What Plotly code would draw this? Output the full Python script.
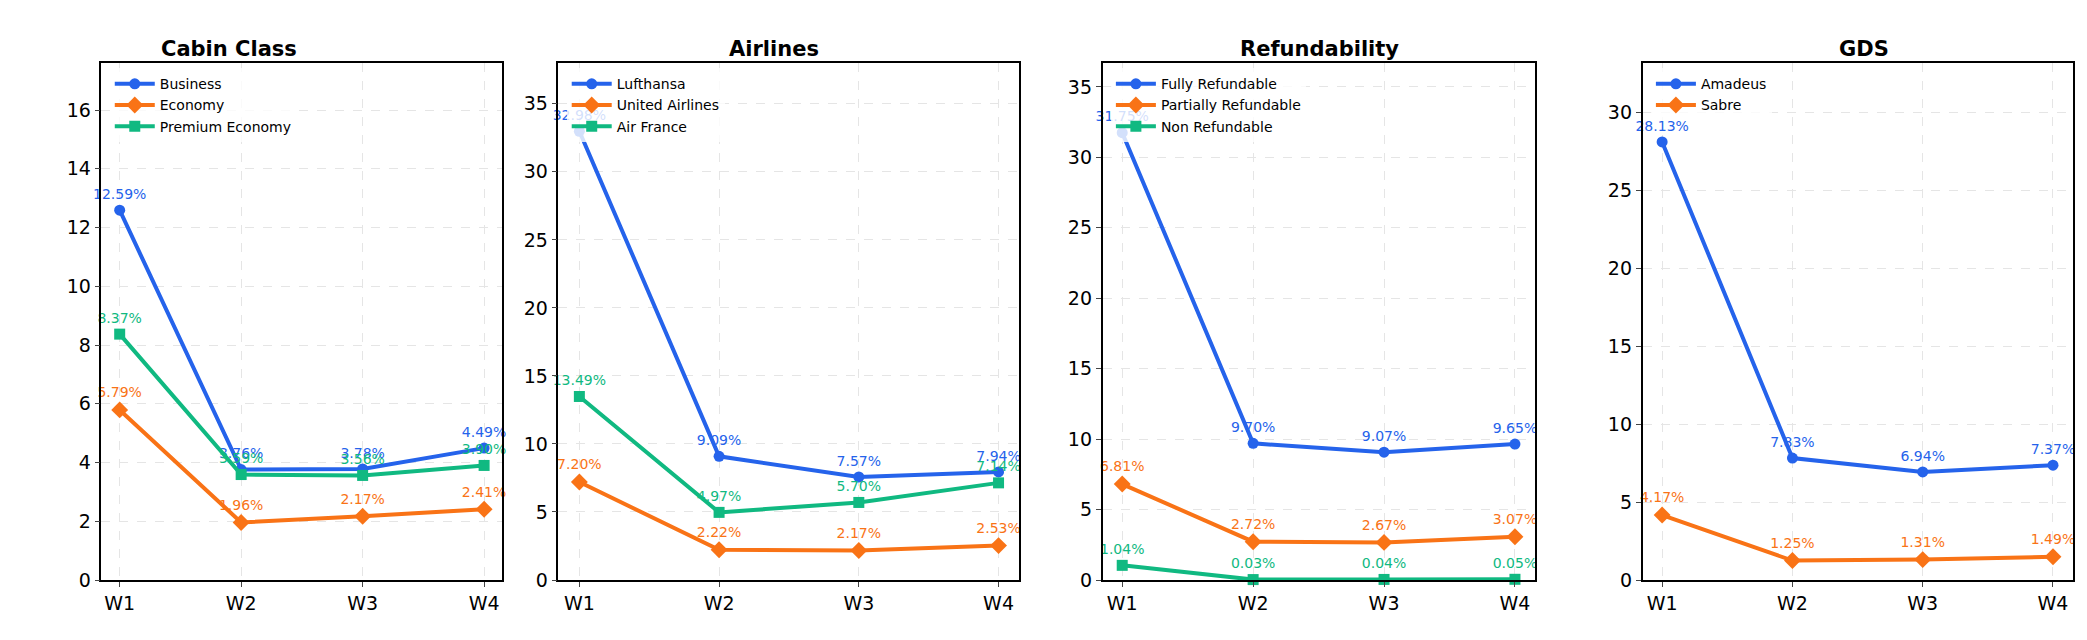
import plotly.graph_objects as go
from plotly.subplots import make_subplots

weeks = ["W1", "W2", "W3", "W4"]

titles = ["Cabin Class", "Airlines", "Refundability", "GDS"]

cabin_names = ["Business", "Economy", "Premium Economy"]
cabin_vals = [[12.59, 3.76, 3.78, 4.49], [5.79, 1.96, 2.17, 2.41], [8.37, 3.59, 3.56, 3.90]]

airline_names = ["Lufthansa", "United Airlines", "Air France"]
airline_vals = [[32.98, 9.09, 7.57, 7.94], [7.20, 2.22, 2.17, 2.53], [13.49, 4.97, 5.70, 7.14]]

refund_names = ["Fully Refundable", "Partially Refundable", "Non Refundable"]
refund_vals = [[31.75, 9.70, 9.07, 9.65], [6.81, 2.72, 2.67, 3.07], [1.04, 0.03, 0.04, 0.05]]

gds_names = ["Amadeus", "Sabre"]
gds_vals = [[28.13, 7.83, 6.94, 7.37], [4.17, 1.25, 1.31, 1.49]]

y_max = [17.6, 38, 36.7, 33.2]
y_dtick = [2, 5, 5, 5]

colors = ["#2563eb", "#f97316", "#10b981"]
symbols = ["circle", "diamond", "square"]

fig = make_subplots(rows=1, cols=4, subplot_titles=[f"<b>{t}</b>" for t in titles])

panels = [(cabin_names, cabin_vals), (airline_names, airline_vals),
          (refund_names, refund_vals), (gds_names, gds_vals)]

doms = [(0.045, 0.238), (0.265, 0.487), (0.527, 0.735), (0.787, 0.994)]

for i, (names, vals) in enumerate(panels):
    leg = "legend" if i == 0 else f"legend{i + 1}"
    for j, (n, v) in enumerate(zip(names, vals)):
        fig.add_trace(go.Scatter(
            x=weeks, y=v, name=n, mode="lines+markers+text",
            line=dict(color=colors[j], width=4),
            marker=dict(symbol=symbols[j], size=11 if j != 1 else 13, color=colors[j]),
            text=[f"{x:.2f}%" for x in v], textposition="top center",
            textfont=dict(color=colors[j], size=14), legend=leg,
            cliponaxis=False,
        ), row=1, col=i + 1)
    fig.update_xaxes(domain=doms[i], row=1, col=i + 1)
    fig.update_yaxes(range=[0, y_max[i]], dtick=y_dtick[i], row=1, col=i + 1)
    fig.layout[leg] = dict(x=doms[i][0] + 0.004, y=0.99, xanchor="left", yanchor="top",
                           bgcolor="rgba(255,255,255,0.8)", font=dict(size=14),
                           itemwidth=40, tracegroupgap=0)

fig.update_xaxes(showline=True, linecolor="black", linewidth=1.5, mirror=True,
                 showgrid=True, gridcolor="#e5e5e5", griddash="dash",
                 ticks="outside", tickfont=dict(size=19), range=[-0.15, 3.15])
fig.update_yaxes(showline=True, linecolor="black", linewidth=1.5, mirror=True,
                 showgrid=True, gridcolor="#e5e5e5", griddash="dash", zeroline=False,
                 ticks="outside", tickfont=dict(size=19))
fig.update_annotations(font=dict(size=21, color="black"))

fig.update_layout(
    width=2087, height=640, plot_bgcolor="white", paper_bgcolor="white",
    font=dict(family="DejaVu Sans", color="black"),
    margin=dict(l=0, r=10, t=55, b=68),
)

fig.write_html("out.html")
